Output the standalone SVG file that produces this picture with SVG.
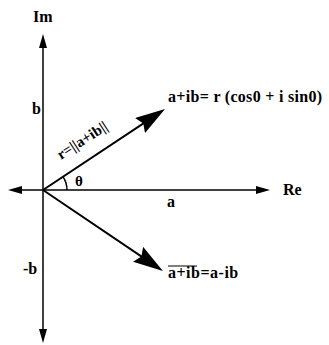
<svg xmlns="http://www.w3.org/2000/svg" width="329" height="345" viewBox="0 0 329 345">
<style>
text{font-family:"Liberation Serif","Times New Roman",serif;font-weight:bold;font-size:16px;fill:#000}
.ax{stroke:#000;stroke-width:1.5;fill:none}
.vec{stroke:#000;stroke-width:2;fill:none}
</style>
<defs>
<marker id="axHead" markerUnits="userSpaceOnUse" viewBox="0 0 14 8" refX="2" refY="4" markerWidth="14" markerHeight="8" orient="auto-start-reverse">
<path d="M0,0 L14,4 L0,8 z" fill="#000"/>
</marker>
<marker id="vecHead" markerUnits="userSpaceOnUse" viewBox="0 0 30 18" refX="15" refY="9" markerWidth="30" markerHeight="18" orient="auto">
<path d="M0,0 L30,9 L0,18 L4,9 z" fill="#000"/>
</marker>
</defs>
<rect width="329" height="345" fill="#fff"/>
<g id="connectors">
<line id="imAxis" class="ax" x1="43" y1="331" x2="43" y2="46" marker-start="url(#axHead)" marker-end="url(#axHead)"/>
<line id="reAxis" class="ax" x1="20" y1="190" x2="258" y2="190" marker-start="url(#axHead)" marker-end="url(#axHead)"/>
<line id="vecZ" class="vec" x1="43" y1="190" x2="152.5" y2="117.3" marker-end="url(#vecHead)"/>
<line id="vecConj" class="vec" x1="43" y1="190" x2="150.5" y2="262.7" marker-end="url(#vecHead)"/>
<path id="angleArc" class="ax" stroke-width="1.2" d="M67,190 A24,24 0 0 0 63.1,176.9"/>
</g>
<g id="labelIm"><text x="33" y="22">Im</text></g>
<g id="labelRe"><text x="283" y="195">Re</text></g>
<g id="labelB"><text x="32" y="114">b</text></g>
<g id="labelNegB"><text x="23" y="274">-b</text></g>
<g id="labelA"><text x="167" y="207">a</text></g>
<g id="labelTheta"><text x="75" y="186" style="font-size:15px">θ</text></g>
<g id="labelR"><text transform="translate(61,160) rotate(-33)" style="font-size:15px">r=||a+ib||</text></g>
<g id="labelZ"><text x="168" y="102" style="letter-spacing:0.3px">a+ib= r (cos0 + i sin0)</text></g>
<g id="labelConj"><text x="168" y="278" style="letter-spacing:0.5px">a+ib=a-ib</text><line x1="168" y1="266" x2="197" y2="266" stroke="#000" stroke-width="1"/></g>
</svg>
